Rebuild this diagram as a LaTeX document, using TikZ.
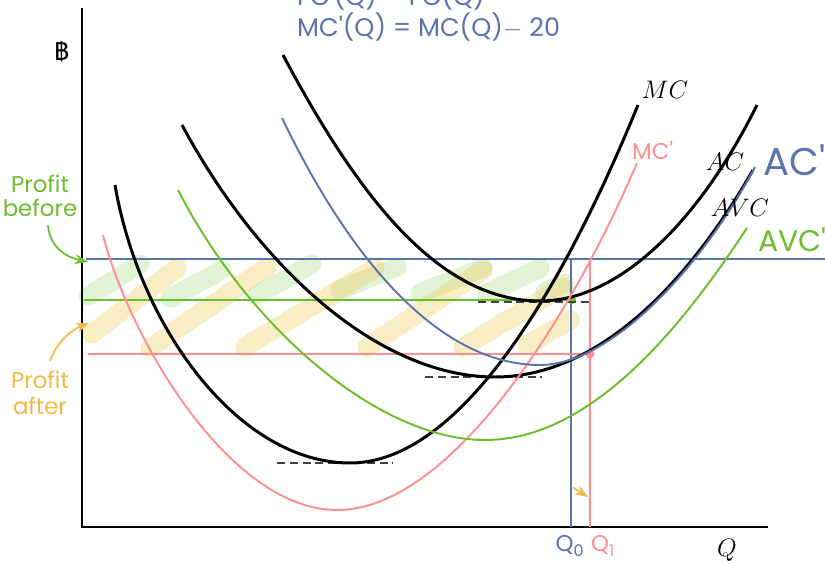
\documentclass[tikz,border=0pt]{standalone}
\usepackage{fontspec}
\newfontfamily\handfont{Poppins}
\newfontfamily\thaifont[Script=Thai]{Loma}
\usetikzlibrary{arrows.meta}
\definecolor{CurveBlue}{HTML}{5C74AE}
\definecolor{CurvePink}{HTML}{FF8F8F}
\definecolor{CurveGreen}{HTML}{6CBD2C}
\definecolor{NoteOrange}{HTML}{F2B84B}
\definecolor{HatchYellow}{HTML}{EFCB55}

\begin{document}
\begin{tikzpicture}[x=0.02cm, y=-0.02cm, >=Stealth,
    curve/.style={line width=1.7pt},
    guide/.style={line width=1.1pt},
    minline/.style={dash pattern=on 4.5pt off 2.8pt, line width=0.9pt, black!75},
    hatchgreen/.style={line width=11pt, line cap=round, draw=CurveGreen, opacity=0.2},
    hatchyellow/.style={line width=11pt, line cap=round, draw=HatchYellow, opacity=0.35},
    hand/.style={font=\handfont\fontsize{13}{15}\selectfont},
    curvelabel/.style={font=\fontsize{14}{16}\selectfont}]
  \clip (0,0) rectangle (825,564);
  % Shaded profit areas
  \foreach \a/\b/\c/\d in {88/296/140/264, 170/298/222/270, 257/295/312/264,
      340/290/397/267, 420/293/483/268, 487/293/540/268, 545/292/565/283}
    \draw[hatchgreen] (\a,\b) -- (\c,\d);
  \foreach \a/\b/\c/\d in {92/334/177/268, 150/348/267/267, 245/347/375/268,
      367/347/483/270, 463/347/563/287, 527/345/570/320}
    \draw[hatchyellow] (\a,\b) -- (\c,\d);
  % Axes
  \draw[line width=1.7pt] (82,8) -- (82,527) -- (768,527);
  \node[font=\thaifont\fontsize{14}{16}\selectfont] (baht) at (62,52) {฿};
  \node[curvelabel] (qaxis) at (727,550) {$Q$};
  % Price and quantity guides
  \draw[guide, CurveBlue] (86,259) -- (825,259);
  \draw[guide, CurveBlue] (571,259) -- (571,527);
  \draw[guide, CurvePink] (590,259) -- (590,527);
  \draw[guide, CurveGreen] (84,300) -- (572,300);
  \draw[guide, CurvePink] (88,354) -- (590,354);
  \fill[CurveGreen] (572,300) circle (4);
  \fill[CurvePink] (590,354) circle (4.5);
  % Minimum points
  \draw[minline] (478,302) -- (590,302);
  \draw[minline] (425,377) -- (542,377);
  \draw[minline] (277,463) -- (393,463);
  % Original curves: MC, AC, AVC
  \draw[curve] (115,185) .. controls (140,330) and (240,463) .. (350,463)
    .. controls (450,463) and (550,320) .. (638,105);
  \draw[curve] (283,55) .. controls (360,200) and (440,301) .. (540,301)
    .. controls (620,301) and (700,220) .. (757,105);
  \draw[curve] (182,125) .. controls (260,270) and (380,377) .. (495,377)
    .. controls (600,377) and (690,280) .. (753,170);
  % New curves: MC', AC', AVC'
  \draw[guide, CurvePink] (103,235) .. controls (130,340) and (230,510) .. (337,510)
    .. controls (450,510) and (570,320) .. (637,163);
  \draw[guide, CurveBlue] (282,118) .. controls (360,280) and (450,365) .. (540,365)
    .. controls (610,365) and (700,270) .. (755,167);
  \draw[guide, CurveGreen] (178,190) .. controls (250,330) and (380,440) .. (485,440)
    .. controls (590,440) and (680,330) .. (747,228);
  % Curve labels
  \node[curvelabel] (mc) at (665,90) {$MC$};
  \node[curvelabel] (ac) at (725,162) {$AC$};
  \node[curvelabel] (avc) at (740,208) {$AVC$};
  \node[hand, CurvePink, anchor=west] (mcnew) at (626,150) {MC'};
  \node[font=\handfont\fontsize{22}{24}\selectfont, CurveBlue, anchor=west] (acnew) at (757,160) {AC'};
  \node[font=\handfont\fontsize{17}{19}\selectfont, CurveGreen, anchor=west] (avcnew) at (752,240) {AVC'};
  \node[hand, CurveBlue] (qzero) at (570,546) {Q\textsubscript{0}};
  \node[hand, CurvePink] (qone) at (603,546) {Q\textsubscript{1}};
  % Cost change
  \node[font=\handfont\fontsize{14.5}{17}\selectfont, CurveBlue, anchor=base west] (fcrule) at (291,6) {FC'(Q) = FC(Q)};
  \node[font=\handfont\fontsize{14.5}{17}\selectfont, CurveBlue, anchor=base west] (mcrule) at (291,37) {MC'(Q) = MC(Q)$-$ 20};
  % Profit notes
  \node[hand, CurveGreen, align=center] (before) at (40,196) {Profit\\[-1pt]before};
  \node[hand, NoteOrange, align=center] (after) at (40,393) {Profit\\after};
  \coordinate (beforetip) at (88,262);
  \coordinate (aftertip) at (89,323);
  \draw[->, CurveGreen, line width=1pt] (before.south) ++(8,2) .. controls (50,250) and (70,258) .. (beforetip);
  \draw[->, NoteOrange, line width=1pt] (after.north) ++(10,-4) .. controls (58,340) and (72,330) .. (aftertip);
  \draw[->, NoteOrange, line width=1pt] (qzero.north) ++(3,-42) -- (588,497);
\end{tikzpicture}
\end{document}
